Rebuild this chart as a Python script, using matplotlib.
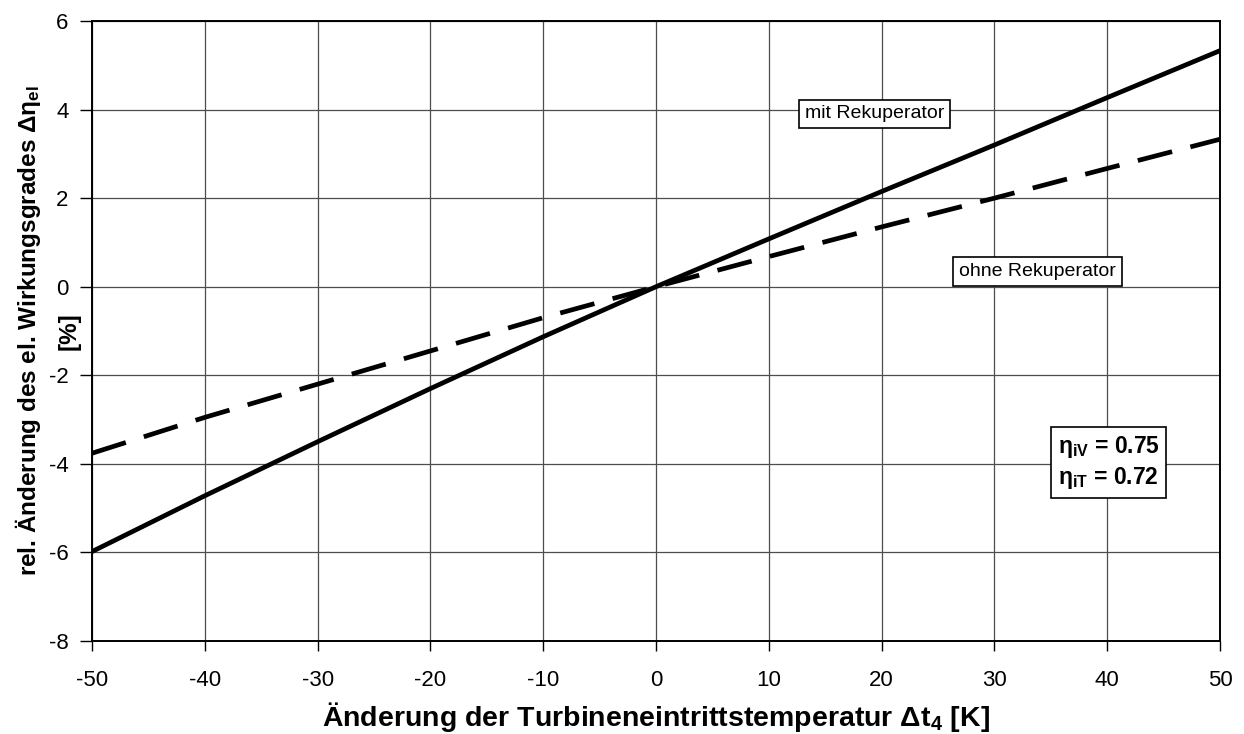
import matplotlib
matplotlib.use("Agg")
import matplotlib.pyplot as plt

plt.rcParams['font.family'] = ['Liberation Sans', 'DejaVu Sans']
plt.rcParams['mathtext.fontset'] = 'custom'
plt.rcParams['mathtext.rm'] = 'Liberation Sans'
plt.rcParams['mathtext.it'] = 'Liberation Sans'
plt.rcParams['mathtext.bf'] = 'Liberation Sans:bold'
plt.rcParams['axes.unicode_minus'] = False

# Temperaturänderung am Turbineneintritt [K]
dt4 = [-50, -40, -30, -20, -10, 0, 10, 20, 30, 40, 50]
# rel. Wirkungsgradänderung [%]
mit_rekup = [-5.98, -4.72, -3.5, -2.3, -1.13, 0.0, 1.08, 2.15, 3.2, 4.27, 5.33]
ohne_rekup = [-3.76, -2.95, -2.2, -1.45, -0.7, 0.0, 0.68, 1.35, 2.0, 2.67, 3.33]

xticks = list(range(-50, 51, 10))
yticks = list(range(-8, 7, 2))

fig = plt.figure(figsize=(12.44, 7.34), dpi=100)
ax = fig.add_axes([0.074, 0.1267, 0.9067, 0.8447])

ax.plot(dt4, mit_rekup, color='black', lw=3.4, solid_joinstyle='miter', zorder=3)
ax.plot(dt4, ohne_rekup, color='black', lw=3.4, dashes=(7.5, 4),
        dash_capstyle='butt', zorder=3)

ax.set_xlim(-50, 50)
ax.set_ylim(-8, 6)
ax.set_xticks(xticks)
ax.set_yticks(yticks)
ax.grid(True, color='#4d4d4d', lw=0.9)
ax.set_axisbelow(True)
for s in ax.spines.values():
    s.set_linewidth(1.4)
    s.set_color('black')
ax.tick_params(axis='x', direction='out', length=7, width=1, labelsize=16, pad=14)
ax.tick_params(axis='y', direction='out', length=9, width=1, labelsize=16, pad=8)

ax.set_xlabel(r'Änderung der Turbineneintrittstemperatur $\mathbf{\Delta t_4}$ [K]',
              fontsize=20.5, fontweight='bold', labelpad=6)
ax.set_ylabel('rel. Änderung des el. Wirkungsgrades $\\mathbf{\\Delta\\eta_{el}}$',
              fontsize=17.5, fontweight='bold')
ax.yaxis.set_label_coords(-0.0435, 0.5)
# Einheit als zweite Zeile der y-Beschriftung
ax.text(-0.0205, 0.5, '[%]', transform=ax.transAxes, rotation=90,
        fontsize=17.5, fontweight='bold', ha='center', va='center')

box = dict(boxstyle='square,pad=0.3', fc='white', ec='black', lw=1.2)
ax.text(19.4, 3.9, 'mit Rekuperator', fontsize=14, ha='center', va='center',
        bbox=box, zorder=4)
ax.text(33.8, 0.35, 'ohne Rekuperator', fontsize=14, ha='center', va='center',
        bbox=box, zorder=4)
ax.text(35.6, -3.97, '$\\mathbf{\\eta_{iV}}$ = 0.75\n$\\mathbf{\\eta_{iT}}$ = 0.72',
        fontsize=16.5, fontweight='bold', ha='left', va='center',
        linespacing=1.3, bbox=dict(boxstyle='square,pad=0.28', fc='white',
                                   ec='black', lw=1.2), zorder=4)

fig.savefig('out.png', dpi=100)
